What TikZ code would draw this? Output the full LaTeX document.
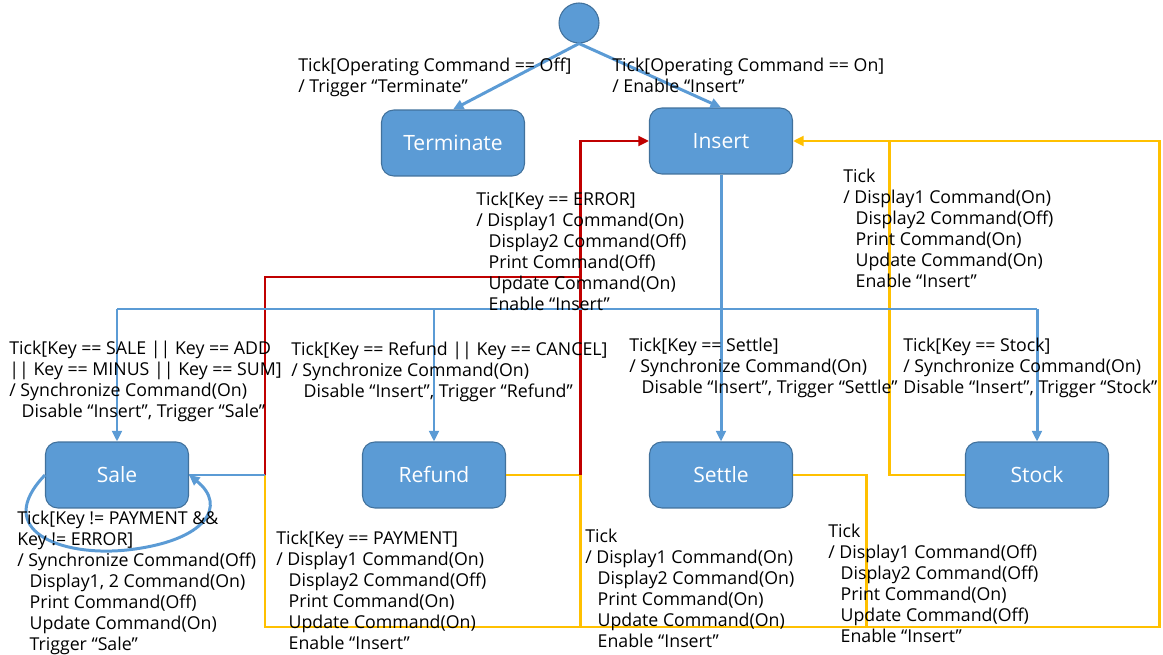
\documentclass[tikz,border=0pt]{standalone}
\usepackage{fontspec}
\setmainfont{Open Sans}
\usetikzlibrary{arrows.meta,positioning}
\definecolor{stblue}{HTML}{5B9BD5}
\definecolor{stedge}{HTML}{41719C}
\definecolor{stred}{HTML}{C00000}
\definecolor{styellow}{HTML}{FFC000}
\newcommand{\ind}{\hspace*{7pt}}
\tikzset{
  statebox/.style={draw=stedge, fill=stblue, rounded corners=7pt, line width=0.6pt,
    minimum width=2.86cm, minimum height=1.32cm, text=white, font=\fontsize{12}{15}\selectfont},
  initstate/.style={circle, draw=stedge, fill=stblue, line width=0.6pt, minimum size=0.8cm, inner sep=0pt},
  guard/.style={anchor=north west, inner sep=0pt, align=left, font=\fontsize{10.1}{11.95}\selectfont},
  blueline/.style={draw=stblue, line width=1.7pt},
  redline/.style={draw=stred, line width=1.7pt},
  yellowline/.style={draw=styellow, line width=1.7pt},
  tip/.style={-{Triangle[length=6pt,width=5.5pt]}}
}
\begin{document}
\begin{tikzpicture}[x=0.02cm,y=-0.02cm]
\useasboundingbox (0,0) rectangle (1163,655);
\node[initstate] (init) at (579,23) {};
\node[statebox] (terminate) at (453,143) {Terminate};
\node[statebox] (insert) at (721,141) {Insert};
\node[statebox] (sale) at (117,475) {Sale};
\node[statebox] (refund) at (434,475) {Refund};
\node[statebox] (settle) at (721,475) {Settle};
\node[statebox] (stock) at (1037,475) {Stock};
\coordinate (bus) at (721,309);
\coordinate (errleft) at (265,475);
\coordinate (errright) at (580,475);
\coordinate (errbend) at (265,277);
\coordinate (paybottom) at (265,627);
\coordinate (loopright) at (1159,627);
\coordinate (settlejoin) at (866,475);
\coordinate (stockjoin) at (889,475);
\draw[yellowline] (refund.east) -- (errright) -- (errright |- paybottom);
\draw[yellowline] (settle.east) -| (settlejoin |- paybottom);
\draw[yellowline] (stock.west) -| (stockjoin |- insert.east);
\draw[yellowline,tip] (errleft) -- (paybottom) -- (loopright) |- (insert.east);
\draw[redline] (errleft) -- (errbend) -- (errbend -| errright);
\draw[redline,tip] (errright) |- (insert.west);
\draw[blueline,tip] (init.south) -- (terminate.north);
\draw[blueline,tip] (init.south) -- (insert.north);
\draw[blueline,tip] (insert.south) -- (settle.north);
\draw[blueline] (sale |- bus) -- (stock |- bus);
\draw[blueline,tip] (sale |- bus) -- (sale.north);
\draw[blueline,tip] (refund |- bus) -- (refund.north);
\draw[blueline,tip] (stock |- bus) -- (stock.north);
\draw[blueline] (sale.east) -- (errleft);
\draw[blueline,tip] (sale.west) .. controls (-8,530) and (60,557) .. (127,550) .. controls (208,541) and (227,505) .. (sale.east);
\node[guard] (offguard) at (298,58) {Tick[Operating Command == Off]\\/ Trigger “Terminate”};
\node[guard] (onguard) at (612,58) {Tick[Operating Command == On]\\/ Enable “Insert”};
\node[guard] (errguard) at (476,192) {Tick[Key == ERROR]\\/ Display1 Command(On)\\\ind Display2 Command(Off)\\\ind Print Command(Off)\\\ind Update Command(On)\\\ind Enable “Insert”};
\node[guard] (stockback) at (843,169) {Tick\\/ Display1 Command(On)\\\ind Display2 Command(Off)\\\ind Print Command(On)\\\ind Update Command(On)\\\ind Enable “Insert”};
\node[guard] (saleguard) at (9,341) {Tick[Key == SALE || Key == ADD\\|| Key == MINUS || Key == SUM]\\/ Synchronize Command(On)\\\ind Disable “Insert”, Trigger “Sale”};
\node[guard] (refundguard) at (291,342) {Tick[Key == Refund || Key == CANCEL]\\/ Synchronize Command(On)\\\ind Disable “Insert”, Trigger “Refund”};
\node[guard] (settleguard) at (629,338) {Tick[Key == Settle]\\/ Synchronize Command(On)\\\ind Disable “Insert”, Trigger “Settle”};
\node[guard] (stockguard) at (903,338) {Tick[Key == Stock]\\/ Synchronize Command(On)\\Disable “Insert”, Trigger “Stock”};
\node[guard] (loopguard) at (17,511) {Tick[Key != PAYMENT \&\&\\Key != ERROR]\\/ Synchronize Command(Off)\\\ind Display1, 2 Command(On)\\\ind Print Command(Off)\\\ind Update Command(On)\\\ind Trigger “Sale”};
\node[guard] (payguard) at (276,531) {Tick[Key == PAYMENT]\\/ Display1 Command(On)\\\ind Display2 Command(Off)\\\ind Print Command(On)\\\ind Update Command(On)\\\ind Enable “Insert”};
\node[guard] (refundback) at (585,529) {Tick\\/ Display1 Command(On)\\\ind Display2 Command(On)\\\ind Print Command(On)\\\ind Update Command(On)\\\ind Enable “Insert”};
\node[guard] (settleback) at (828,524) {Tick\\/ Display1 Command(Off)\\\ind Display2 Command(Off)\\\ind Print Command(On)\\\ind Update Command(Off)\\\ind Enable “Insert”};
\end{tikzpicture}
\end{document}
